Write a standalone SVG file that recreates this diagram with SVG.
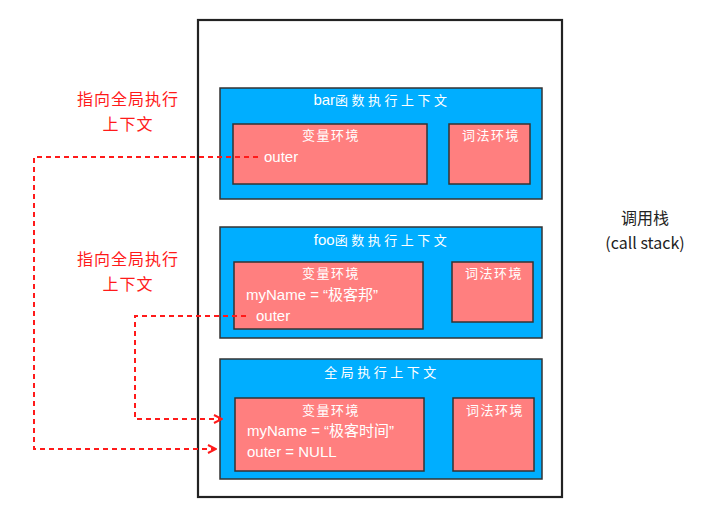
<svg xmlns="http://www.w3.org/2000/svg" width="709" height="520" viewBox="0 0 709 520">
<defs>
<style>
.ctx{fill:#00AEFF;stroke:#333;stroke-width:1.5}
.env{fill:#FF7F7F;stroke:#333;stroke-width:1.5}
.t{font-family:"Noto Sans CJK SC","Liberation Sans",sans-serif;fill:#fff;font-size:13px;letter-spacing:3.5px}
.lat{font-family:"Liberation Sans",sans-serif;font-size:15px;letter-spacing:0}
.e{font-family:"Noto Sans CJK SC","Liberation Sans",sans-serif;fill:#fff;font-size:13px;letter-spacing:1.5px}
.v{font-family:"Liberation Sans","Noto Sans CJK SC",sans-serif;fill:#fff;font-size:15px}
.red{font-family:"Noto Sans CJK SC",sans-serif;fill:#FF1A1A;font-size:16px;letter-spacing:1px}
.blk{font-family:"Noto Sans CJK SC","Liberation Sans",sans-serif;fill:#222;font-size:16px}
.ln{fill:none;stroke:#FF1A1A;stroke-width:2;stroke-dasharray:5,4}
</style>
<marker id="ah" viewBox="0 0 10 10" refX="9" refY="5" markerWidth="10" markerHeight="10" markerUnits="userSpaceOnUse" orient="auto">
<path d="M1,1 L9,5 L1,9" fill="none" stroke="#FF1A1A" stroke-width="2"/>
</marker>
</defs>
<rect width="709" height="520" fill="#fff"/>
<g id="callstack">
<rect x="198" y="20" width="364" height="477" fill="none" stroke="#222" stroke-width="2.2"/>
<text class="blk" x="645" y="224" text-anchor="middle">调用栈</text>
<text class="blk" x="645" y="249" text-anchor="middle">(call stack)</text>
</g>
<g id="bar">
<rect class="ctx" x="220" y="88" width="322" height="111"/>
<text class="t" x="382" y="105" text-anchor="middle"><tspan class="lat">bar</tspan>函数执行上下文</text>
<rect class="env" x="233" y="124" width="194" height="60"/>
<text class="e" x="331" y="140" text-anchor="middle">变量环境</text>
<text class="v" x="264" y="162">outer</text>
<rect class="env" x="449" y="124" width="81" height="60"/>
<text class="e" x="491" y="140" text-anchor="middle">词法环境</text>
</g>
<g id="foo">
<rect class="ctx" x="220" y="227" width="322" height="111"/>
<text class="t" x="382" y="245" text-anchor="middle"><tspan class="lat">foo</tspan>函数执行上下文</text>
<rect class="env" x="234" y="262" width="189" height="67"/>
<text class="e" x="331" y="278" text-anchor="middle">变量环境</text>
<text class="v" x="246" y="300">myName = “极客邦”</text>
<text class="v" x="256" y="321">outer</text>
<rect class="env" x="452" y="262" width="81" height="60"/>
<text class="e" x="494" y="278" text-anchor="middle">词法环境</text>
</g>
<g id="global">
<rect class="ctx" x="220" y="359" width="322" height="120"/>
<text class="t" x="382" y="377" text-anchor="middle">全局执行上下文</text>
<rect class="env" x="235" y="398" width="189" height="73"/>
<text class="e" x="331" y="415" text-anchor="middle">变量环境</text>
<text class="v" x="247" y="436">myName = “极客时间”</text>
<text class="v" x="247" y="457">outer = NULL</text>
<rect class="env" x="453" y="398" width="81" height="73"/>
<text class="e" x="495" y="415" text-anchor="middle">词法环境</text>
</g>
<g id="labels">
<text class="red" x="128" y="105" text-anchor="middle">指向全局执行</text>
<text class="red" x="128" y="130" text-anchor="middle">上下文</text>
<text class="red" x="128" y="265" text-anchor="middle">指向全局执行</text>
<text class="red" x="128" y="290" text-anchor="middle">上下文</text>
</g>
<g id="connectors">
<path class="ln" d="M258,157 H34 V449 H216" marker-end="url(#ah)"/>
<path class="ln" d="M246,316 H135 V419 H222" marker-end="url(#ah)"/>
</g>
</svg>
